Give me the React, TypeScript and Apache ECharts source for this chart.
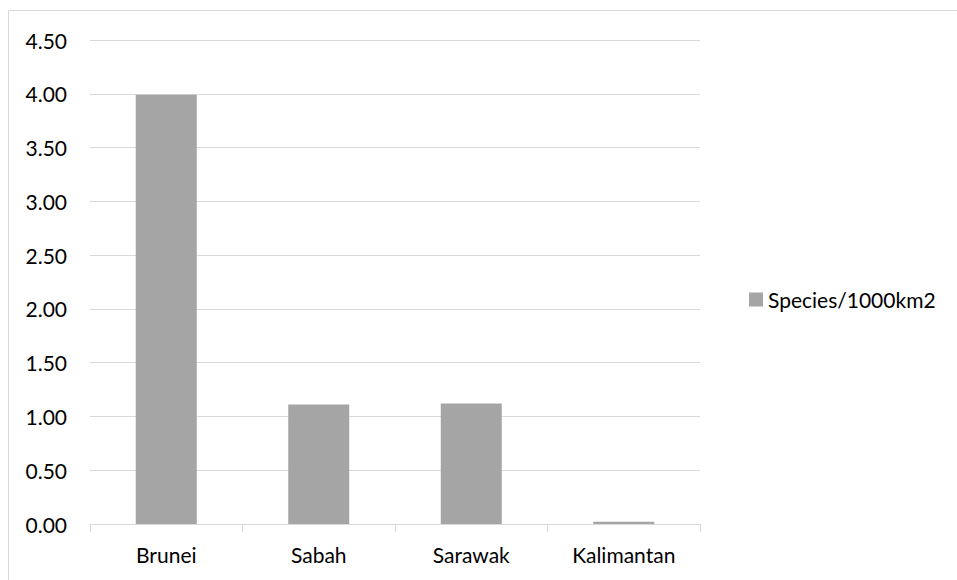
import React, { useEffect, useRef } from "react";
import * as echarts from "echarts";

const categories: string[] = ["Brunei", "Sabah", "Sarawak", "Kalimantan"];
const speciesValues: number[] = [3.99, 1.11, 1.12, 0.02];
const seriesName = "Species/1000km2";

const FONT = "Lato";
const FS = 21;

export default function App() {
  const ref = useRef<HTMLDivElement>(null);

  useEffect(() => {
    document.body.style.margin = "0";
    if (!ref.current) return;
    const chart = echarts.init(ref.current, undefined, { renderer: "svg" });
    chart.setOption({
      animation: false,
      backgroundColor: "#ffffff",
      textStyle: { fontFamily: FONT },
      graphic: [
        {
          type: "rect",
          shape: { x: 8.5, y: 10.5, width: 1000, height: 1000 },
          style: { fill: "none", stroke: "#d9d9d9", lineWidth: 1 },
          silent: true,
        },
      ],
      grid: { left: 90, top: 40, width: 610, height: 484, containLabel: false },
      legend: {
        orient: "vertical",
        left: 749,
        top: 289,
        padding: 0,
        itemWidth: 14,
        itemHeight: 14,
        itemGap: 5,
        icon: "rect",
        textStyle: { fontFamily: FONT, fontSize: FS, color: "#000000" },
        data: [seriesName],
      },
      xAxis: {
        type: "category",
        data: categories,
        axisLine: { show: true, lineStyle: { color: "#d9d9d9", width: 1 } },
        axisTick: { show: true, length: 8, lineStyle: { color: "#d9d9d9" } },
        axisLabel: { fontFamily: FONT, fontSize: FS, color: "#000000", margin: 20 },
        splitLine: { show: false },
      },
      yAxis: {
        type: "value",
        min: 0,
        max: 4.5,
        interval: 0.5,
        axisLine: { show: false },
        axisTick: { show: false },
        axisLabel: {
          fontFamily: FONT,
          fontSize: FS,
          color: "#000000",
          margin: 23,
          formatter: (v: number) => v.toFixed(2),
        },
        splitLine: { show: true, lineStyle: { color: "#d9d9d9", width: 1 } },
      },
      series: [
        {
          name: seriesName,
          type: "bar",
          data: speciesValues,
          barWidth: "40%",
          itemStyle: { color: "#a5a5a5" },
        },
      ],
    });
    return () => chart.dispose();
  }, []);

  return <div ref={ref} style={{ width: 957, height: 580 }} />;
}
